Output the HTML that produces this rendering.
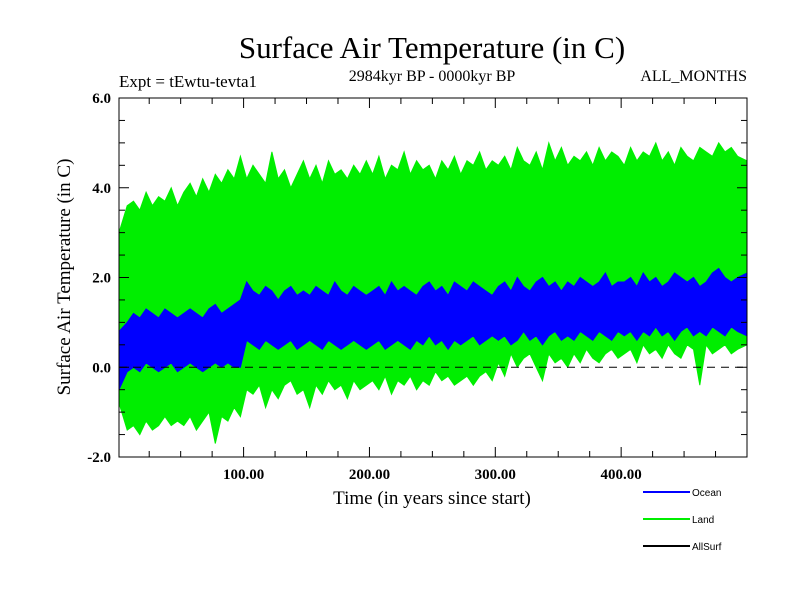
<!DOCTYPE html>
<html><head><meta charset="utf-8"><style>
body{margin:0;background:#fff;}
svg{display:block;font-family:"Liberation Serif",serif;}
</style></head><body>
<svg id="chart" width="800" height="600">
<text x="432" y="58" font-size="31" text-anchor="middle">Surface Air Temperature (in C)</text>
<text x="432" y="81" font-size="16" text-anchor="middle">2984kyr BP - 0000kyr BP</text>
<text x="119" y="87" font-size="17">Expt = tEwtu-tevta1</text>
<text x="747" y="81" font-size="16" text-anchor="end">ALL_MONTHS</text>
<text transform="translate(70,277) rotate(-90)" font-size="19" text-anchor="middle">Surface Air Temperature (in C)</text>
<text x="432" y="504" font-size="19" text-anchor="middle">Time (in years since start)</text>
<g id="plot"></g>
<g id="axes"></g>
<g>
<line x1="643" y1="492" x2="690" y2="492" stroke="#0000ff" stroke-width="2"/>
<text x="692" y="496" font-size="10" font-family="Liberation Sans, sans-serif">Ocean</text>
<line x1="643" y1="519" x2="690" y2="519" stroke="#00ee00" stroke-width="2"/>
<text x="692" y="523" font-size="10" font-family="Liberation Sans, sans-serif">Land</text>
<line x1="643" y1="546" x2="690" y2="546" stroke="#000" stroke-width="2"/>
<text x="692" y="550" font-size="10" font-family="Liberation Sans, sans-serif">AllSurf</text>
</g>
</svg>
<script>
const binYears = 5;
const landUpper = [3.0,3.6,3.7,3.5,3.9,3.6,3.8,3.7,4.0,3.6,3.9,4.1,3.8,4.2,3.9,4.3,4.1,4.4,4.2,4.7,
4.2,4.5,4.3,4.1,4.8,4.2,4.4,4.0,4.3,4.6,4.2,4.5,4.1,4.6,4.3,4.4,4.2,4.5,4.3,4.6,
4.3,4.7,4.2,4.5,4.4,4.8,4.3,4.6,4.4,4.5,4.2,4.6,4.4,4.7,4.3,4.6,4.5,4.8,4.4,4.6,
4.5,4.7,4.4,4.9,4.6,4.5,4.8,4.4,5.0,4.6,4.9,4.5,4.7,4.6,4.8,4.5,4.9,4.6,4.8,4.7,
4.5,4.9,4.6,4.8,4.7,5.0,4.6,4.8,4.5,4.9,4.7,4.6,4.9,4.8,4.7,5.0,4.8,4.9,4.7,4.6];
const landLower = [-0.8,-1.4,-1.3,-1.5,-1.2,-1.4,-1.3,-1.1,-1.3,-1.2,-1.3,-1.1,-1.4,-1.2,-1.0,-1.7,-1.1,-1.2,-0.9,-1.1,
-0.5,-0.6,-0.4,-0.9,-0.5,-0.7,-0.4,-0.3,-0.6,-0.5,-0.9,-0.4,-0.6,-0.3,-0.5,-0.4,-0.7,-0.3,-0.5,-0.4,
-0.3,-0.5,-0.2,-0.6,-0.3,-0.4,-0.2,-0.5,-0.3,-0.4,-0.1,-0.3,-0.2,-0.4,-0.3,-0.2,-0.4,-0.2,-0.1,-0.3,
0.1,-0.2,0.3,0.0,0.2,0.3,0.0,-0.3,0.3,0.1,0.2,0.0,0.3,0.1,0.4,0.2,0.1,0.3,0.4,0.2,
0.3,0.4,0.1,0.5,0.3,0.4,0.2,0.5,0.3,0.2,0.5,0.4,-0.4,0.5,0.3,0.4,0.5,0.3,0.4,0.5];
const oceanUpper = [0.8,1.0,1.2,1.1,1.3,1.2,1.1,1.3,1.2,1.1,1.2,1.3,1.2,1.1,1.3,1.4,1.2,1.3,1.4,1.5,
1.9,1.7,1.6,1.8,1.7,1.5,1.7,1.8,1.6,1.7,1.6,1.8,1.7,1.6,1.9,1.7,1.6,1.8,1.7,1.6,
1.7,1.8,1.6,1.9,1.7,1.8,1.7,1.6,1.8,1.9,1.7,1.8,1.6,1.9,1.8,1.7,1.9,1.8,1.7,1.6,
1.8,1.9,1.7,2.0,1.8,1.7,1.9,2.0,1.8,1.9,1.7,1.9,1.8,2.0,1.9,1.8,1.9,2.1,1.8,1.9,
1.9,2.0,1.8,2.1,1.9,2.0,1.8,1.9,2.1,2.0,1.9,2.0,1.8,1.9,2.1,2.2,2.0,1.9,2.0,2.1];
const oceanLower = [-0.5,-0.1,0.0,-0.1,0.1,0.0,-0.1,0.0,0.1,-0.1,0.0,0.1,0.0,-0.1,0.0,0.1,0.0,0.1,0.0,0.0,
0.6,0.5,0.4,0.6,0.5,0.4,0.5,0.6,0.4,0.5,0.6,0.5,0.4,0.6,0.5,0.4,0.5,0.6,0.5,0.4,
0.5,0.6,0.4,0.5,0.6,0.5,0.4,0.6,0.5,0.7,0.5,0.6,0.4,0.6,0.5,0.6,0.7,0.5,0.6,0.7,
0.6,0.7,0.5,0.6,0.8,0.6,0.7,0.5,0.7,0.8,0.6,0.7,0.6,0.8,0.7,0.6,0.8,0.7,0.6,0.8,
0.7,0.8,0.6,0.8,0.7,0.9,0.7,0.8,0.6,0.8,0.9,0.7,0.8,0.7,0.9,0.8,0.7,0.9,0.8,0.7];
const yTicks = [-2,0,2,4,6];
const yTickLabels = ["-2.0","0.0","2.0","4.0","6.0"];
const xTicks = [100,200,300,400];
const xTickLabels = ["100.00","200.00","300.00","400.00"];

const L=119,R=747,T=98,B=457, X0=1, X1=500, Y0=-2, Y1=6;
const xs = v => L + (v - X0) / (X1 - X0) * (R - L);
const ys = v => B - (v - Y0) / (Y1 - Y0) * (B - T);
const NS="http://www.w3.org/2000/svg";
const plot=document.getElementById('plot'), axes=document.getElementById('axes');
function mk(tag, attrs, parent){const e=document.createElementNS(NS,tag);for(const k in attrs)e.setAttribute(k,attrs[k]);parent.appendChild(e);return e;}

function band(up, lo, color, name){
  const pts=[];
  up.forEach((v,i)=>pts.push([xs(Math.max(X0,i*binYears+binYears/2)),ys(v)]));
  pts[0][0]=xs(X0);pts[pts.length-1][0]=xs(X1);
  const low=[];
  lo.forEach((v,i)=>low.push([xs(Math.max(X0,i*binYears+binYears/2)),ys(v)]));
  low[0][0]=xs(X0);low[low.length-1][0]=xs(X1);
  const all=pts.concat(low.reverse());
  const p=mk('polygon',{points:all.map(q=>q[0].toFixed(1)+','+q[1].toFixed(1)).join(' '),fill:color,stroke:color,'stroke-width':1},plot);
  
  
}
band(landUpper, landLower, '#00ee00', 'land-series');
band(oceanUpper, oceanLower, '#0000ff', 'ocean-series');

const z=mk('line',{x1:L,x2:R,y1:ys(0),y2:ys(0),stroke:'#000','stroke-dasharray':'8,6','stroke-width':1},axes);


const fr=mk('rect',{x:L,y:T,width:R-L,height:B-T,fill:'none',stroke:'#000','stroke-width':1},axes);


for(let v=Y0; v<=Y1+1e-9; v+=0.5){
  const major = Math.abs(v - Math.round(v/2)*2) < 1e-9;
  const len = major?10:6;
  mk('line',{x1:L,x2:L+len,y1:ys(v),y2:ys(v),stroke:'#000'},axes);
  mk('line',{x1:R,x2:R-len,y1:ys(v),y2:ys(v),stroke:'#000'},axes);
}
yTicks.forEach((v,i)=>{
  const t=mk('text',{x:L-8,y:ys(v)+5,'font-size':15,'font-weight':'bold','text-anchor':'end'},axes);
  t.textContent=yTickLabels[i];
  
  
});
for(let v=25; v<X1; v+=25){
  const major = v%100===0;
  const len = major?10:6;
  mk('line',{x1:xs(v),x2:xs(v),y1:B,y2:B-len,stroke:'#000'},axes);
  mk('line',{x1:xs(v),x2:xs(v),y1:T,y2:T+len,stroke:'#000'},axes);
}
xTicks.forEach((v,i)=>{
  const t=mk('text',{x:xs(v),y:B+22,'font-size':15,'font-weight':'bold','text-anchor':'middle'},axes);
  t.textContent=xTickLabels[i];
  
  
});
</script>
</body></html>
